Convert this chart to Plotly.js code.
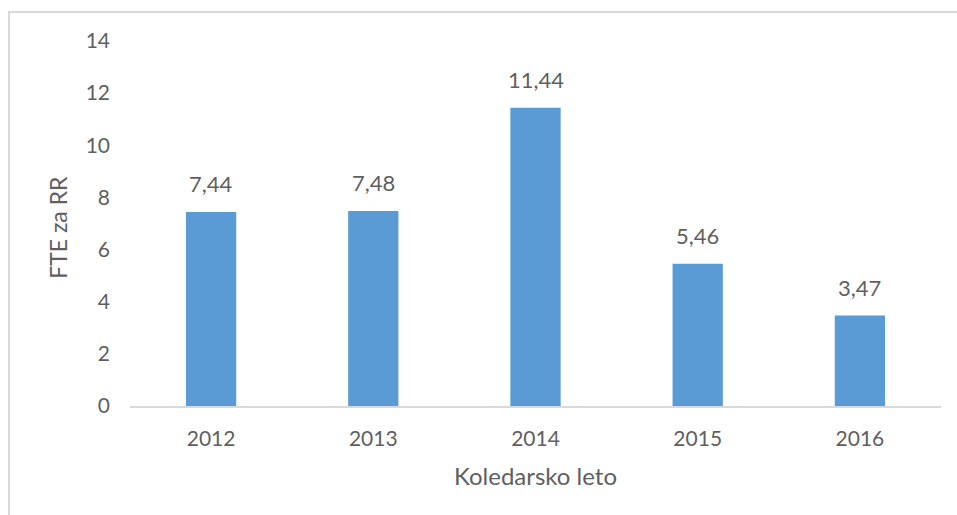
<!DOCTYPE html>
<html>
<head>
<meta charset="utf-8">
<script src="https://cdn.plot.ly/plotly-3.0.1.min.js"></script>
<style>
  html, body { margin: 0; padding: 0; background: #fff; }
  #wrap { position: relative; width: 957px; height: 515px; }
  #chart { width: 957px; height: 515px; }
  #frame { position: absolute; left: 8px; top: 11px; width: 960px; height: 520px;
           border-top: 2px solid #d9d9d9; border-left: 2px solid #d9d9d9; pointer-events: none; }
</style>
</head>
<body>
<div id="wrap">
  <div id="chart"></div>
  <div id="frame"></div>
</div>
<script>
const categories = ["2012", "2013", "2014", "2015", "2016"];
const values = [7.44, 7.48, 11.44, 5.46, 3.47];
const yTicks = [0, 2, 4, 6, 8, 10, 12, 14];
const xTitle = "Koledarsko leto";
const yTitle = "FTE za RR";

const fontFamily = "Lato, 'Open Sans', sans-serif";
const textColor = "#5f5f5f";

const labels = values.map(v => v.toFixed(2).replace(".", ","));

const trace = {
  type: "bar",
  x: categories,
  y: values,
  marker: { color: "#5B9BD5" },
  hoverinfo: "none"
};

const annotations = categories.map((c, i) => ({
  x: i, y: values[i], xref: "x", yref: "y",
  text: labels[i], showarrow: false,
  yanchor: "bottom", yshift: 13,
  font: { family: fontFamily, size: 22, color: textColor }
}));

annotations.push({
  text: yTitle, xref: "paper", yref: "paper", x: -0.088, y: 0.49,
  xanchor: "center", yanchor: "middle", textangle: -90, showarrow: false,
  font: { family: fontFamily, size: 23, color: textColor }
});
annotations.push({
  text: xTitle, xref: "paper", yref: "paper", x: 0.5, y: -0.19,
  xanchor: "center", yanchor: "middle", showarrow: false,
  font: { family: fontFamily, size: 24, color: textColor }
});

const layout = {
  width: 957, height: 515,
  margin: { l: 130, r: 16, t: 41, b: 109 },
  paper_bgcolor: "#fff", plot_bgcolor: "#fff",
  bargap: 0.69,
  showlegend: false,
  font: { family: fontFamily, size: 21, color: textColor },
  xaxis: {
    type: "category",
    categoryarray: categories, categoryorder: "array",
    range: [-0.5, categories.length - 0.5],
    showline: true, linecolor: "#d9d9d9", linewidth: 1.5,
    showgrid: false, zeroline: false, ticks: "",
    ticklabelstandoff: 13,
    tickfont: { family: fontFamily, size: 21, color: textColor }
  },
  yaxis: {
    range: [0, 14], tickvals: yTicks, ticktext: yTicks.map(String),
    showline: false, showgrid: false, zeroline: false, ticks: "",
    ticklabelstandoff: 19,
    tickfont: { family: fontFamily, size: 21, color: textColor }
  },
  annotations: annotations
};

Plotly.newPlot("chart", [trace], layout, { staticPlot: true, displayModeBar: false });
</script>
</body>
</html>
